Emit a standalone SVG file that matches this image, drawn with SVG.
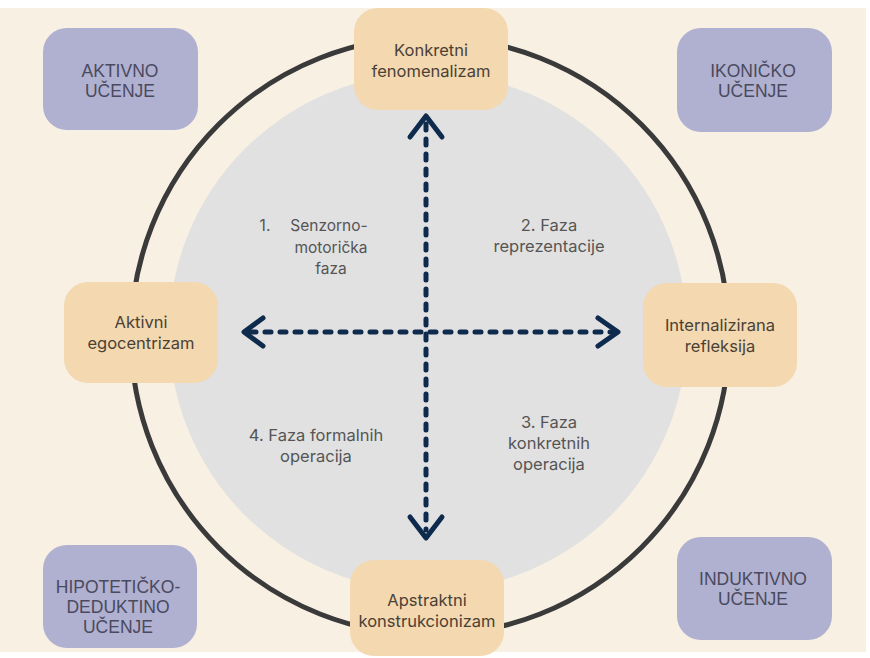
<svg xmlns="http://www.w3.org/2000/svg" width="870" height="658" viewBox="0 0 870 658">
<style>
.tan{fill:#F3D8B0}
.pur{fill:#B0B0D0}
.tt{font-family:Inter,"Liberation Sans",sans-serif;font-size:16.5px;fill:#4A4136;text-anchor:middle}
.pt{font-family:"Liberation Sans",Arial,sans-serif;font-size:17.5px;fill:#4A4A5E;text-anchor:middle}
.st{font-family:Inter,"Liberation Sans",sans-serif;font-size:16.5px;fill:#555555;text-anchor:middle}
.dash{fill:none;stroke:#0E2A4C;stroke-width:5;stroke-linecap:round;stroke-dasharray:6 9}
.head{fill:none;stroke:#0E2A4C;stroke-width:5;stroke-linecap:round;stroke-linejoin:round}
</style>
<rect x="0" y="0" width="870" height="658" fill="#FFFFFF"/>
<rect x="0" y="8" width="866" height="644" fill="#F7F0E3"/>
<circle cx="430" cy="336" r="299" fill="none" stroke="#3A3A3A" stroke-width="5"/>
<circle cx="428" cy="332" r="259" fill="#E1E1E1"/>

<g id="connectors">
<line class="dash" x1="426" y1="124" x2="426" y2="530"/>
<line class="dash" x1="250" y1="332" x2="612" y2="332"/>
<polyline class="head" points="410,137 426,116 442,137"/>
<polyline class="head" points="410,517 426,538 442,517"/>
<polyline class="head" points="263,318 244,332 263,346"/>
<polyline class="head" points="598,318 618,332 598,346"/>
</g>

<g id="stage1">
<text class="st" x="265" y="231" style="font-size:15.5px">1.</text>
<text class="st" x="329" y="231" style="font-size:15.5px">Senzorno-</text>
<text class="st" x="331" y="253" style="font-size:15.5px">motorička</text>
<text class="st" x="331" y="274" style="font-size:15.5px">faza</text>
</g>
<g id="stage2">
<text class="st" x="549" y="231">2. Faza</text>
<text class="st" x="549" y="252">reprezentacije</text>
</g>
<g id="stage3">
<text class="st" x="549" y="428">3. Faza</text>
<text class="st" x="549" y="449">konkretnih</text>
<text class="st" x="549" y="470">operacija</text>
</g>
<g id="stage4">
<text class="st" x="316" y="441">4. Faza formalnih</text>
<text class="st" x="316" y="462">operacija</text>
</g>

<g id="n-konkretni">
<rect class="tan" x="354" y="8" width="154" height="102" rx="24"/>
<text class="tt" x="431" y="56">Konkretni</text>
<text class="tt" x="431" y="77">fenomenalizam</text>
</g>
<g id="n-aktivni">
<rect class="tan" x="64" y="282" width="154" height="101" rx="24"/>
<text class="tt" x="141" y="328">Aktivni</text>
<text class="tt" x="141" y="349">egocentrizam</text>
</g>
<g id="n-internalizirana">
<rect class="tan" x="643" y="283" width="154" height="104" rx="24"/>
<text class="tt" x="720" y="331">Internalizirana</text>
<text class="tt" x="720" y="352">refleksija</text>
</g>
<g id="n-apstraktni">
<rect class="tan" x="350" y="560" width="154" height="96" rx="24"/>
<text class="tt" x="427" y="606">Apstraktni</text>
<text class="tt" x="427" y="627">konstrukcionizam</text>
</g>

<g id="n-aktivno-ucenje">
<rect class="pur" x="43" y="28" width="155" height="102" rx="24"/>
<text class="pt" x="120" y="77">AKTIVNO</text>
<text class="pt" x="120" y="97">UČENJE</text>
</g>
<g id="n-ikonicko">
<rect class="pur" x="677" y="28" width="155" height="104" rx="24"/>
<text class="pt" x="753" y="77">IKONIČKO</text>
<text class="pt" x="753" y="97">UČENJE</text>
</g>
<g id="n-induktivno">
<rect class="pur" x="677" y="537" width="155" height="103" rx="24"/>
<text class="pt" x="753" y="585">INDUKTIVNO</text>
<text class="pt" x="753" y="605">UČENJE</text>
</g>
<g id="n-hipoteticko">
<rect class="pur" x="43" y="545" width="154" height="103" rx="24"/>
<text class="pt" x="118" y="593">HIPOTETIČKO-</text>
<text class="pt" x="118" y="613">DEDUKTINO</text>
<text class="pt" x="118" y="633">UČENJE</text>
</g>
</svg>
